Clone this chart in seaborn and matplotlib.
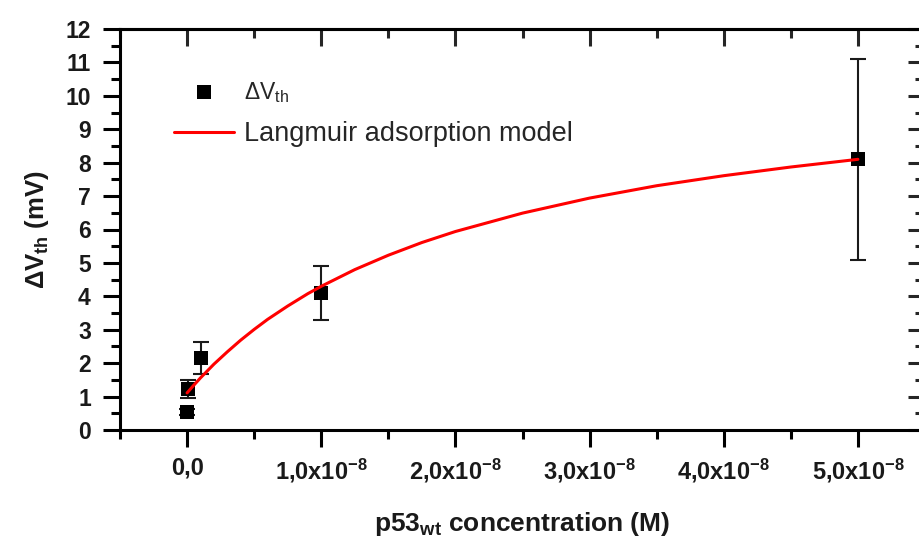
import matplotlib
matplotlib.use("Agg")
import matplotlib.pyplot as plt
from matplotlib.ticker import MultipleLocator
import seaborn as sns
import pandas as pd

# ---- data ----
conc = [1e-11, 1e-10, 1e-9, 1e-8, 5e-8]          # p53wt concentration (M)
dvth = [0.54, 1.23, 2.15, 4.10, 8.10]             # ΔVth (mV)
dvth_err = [0.10, 0.28, 0.48, 0.80, 3.00]         # error (mV)

model_x = [0.0, 0.05e-8, 0.1e-8, 0.2e-8, 0.3e-8, 0.4e-8, 0.5e-8, 0.6e-8, 0.75e-8,
           0.9e-8, 1.0e-8, 1.25e-8, 1.5e-8, 1.75e-8, 2.0e-8, 2.5e-8, 3.0e-8,
           3.5e-8, 4.0e-8, 4.5e-8, 5.0e-8]
model_y = [1.11, 1.34, 1.56, 1.97, 2.34, 2.69, 3.01, 3.31, 3.71,
           4.08, 4.30, 4.80, 5.23, 5.61, 5.94, 6.49, 6.94,
           7.31, 7.61, 7.87, 8.10]

xtick_vals = [0.0, 1e-8, 2e-8, 3e-8, 4e-8, 5e-8]
xtick_labels = ["0,0", r"1,0x10$^{\mathbf{-8}}$", r"2,0x10$^{\mathbf{-8}}$",
                r"3,0x10$^{\mathbf{-8}}$", r"4,0x10$^{\mathbf{-8}}$", r"5,0x10$^{\mathbf{-8}}$"]
ytick_vals = list(range(0, 13))

pts = pd.DataFrame({"conc": conc, "dvth": dvth})
model = pd.DataFrame({"x": model_x, "y": model_y})

sns.set_style("ticks")
plt.rcParams["font.family"] = ["Liberation Sans", "DejaVu Sans"]
plt.rcParams["mathtext.fontset"] = "custom"
plt.rcParams["mathtext.rm"] = "Liberation Sans"
plt.rcParams["mathtext.it"] = "Liberation Sans:italic"
plt.rcParams["mathtext.bf"] = "Liberation Sans:bold"

W, H = 919, 543
fig = plt.figure(figsize=(W / 100, H / 100), dpi=100)
ax = fig.add_axes([120 / W, 113 / H, 805 / W, 401 / H])

ax.errorbar(conc, dvth, yerr=dvth_err, fmt="none", ecolor="#1a1a1a",
            elinewidth=1.5, capsize=5.5, capthick=1.5, zorder=2)
sns.scatterplot(data=pts, x="conc", y="dvth", marker="s", s=105, color="black",
                linewidth=0, ax=ax, zorder=3, label="ΔV$_{\\mathrm{th}}$")
sns.lineplot(data=model, x="x", y="y", color="#ff0000", linewidth=2.2, ax=ax,
             zorder=4, label="Langmuir adsorption model")

ax.set_xlim(-0.5e-8, 5.5e-8)
ax.set_ylim(0, 12)

ax.set_xticks(xtick_vals, xtick_labels)
ax.set_yticks(ytick_vals, [str(v) for v in ytick_vals])
ax.xaxis.set_minor_locator(MultipleLocator(0.5e-8))
ax.yaxis.set_minor_locator(MultipleLocator(0.5))

for lab in ax.get_xticklabels():
    lab.set_fontsize(17)
    lab.set_fontweight("bold")
for lab in ax.get_yticklabels():
    lab.set_fontsize(16.5)
    lab.set_fontweight("bold")

ax.tick_params(axis="both", which="major", direction="out", length=12, width=2.2,
               color="black", labelcolor="#1a1a1a")
ax.tick_params(axis="x", which="major", pad=7)
ax.tick_params(axis="y", which="major", pad=9)
ax.tick_params(axis="both", which="minor", direction="out", length=6.5, width=2.2,
               color="black")

for sp in ax.spines.values():
    sp.set_linewidth(2.2)
    sp.set_color("black")
    sp.set_visible(True)

# mirrored top / right axes with inward ticks
top = ax.secondary_xaxis("top")
top.set_xticks(xtick_vals)
top.xaxis.set_minor_locator(MultipleLocator(0.5e-8))
top.tick_params(which="major", direction="in", length=12, width=2.2, labeltop=False)
top.tick_params(which="minor", direction="in", length=6.5, width=2.2)
top.spines["top"].set_linewidth(2.2)
right = ax.secondary_yaxis("right")
right.set_yticks(ytick_vals)
right.yaxis.set_minor_locator(MultipleLocator(0.5))
right.tick_params(which="major", direction="in", length=12, width=2.2, labelright=False)
right.tick_params(which="minor", direction="in", length=7, width=2.2)
right.spines["right"].set_linewidth(2.2)

ax.set_xlabel("p53$_{\\mathbf{wt}}$ concentration (M)", fontsize=19, fontweight="bold",
              color="#1a1a1a", labelpad=18)
ax.set_ylabel("ΔV$_{\\mathbf{th}}$ (mV)", fontsize=18.5, fontweight="bold",
              color="#1a1a1a", labelpad=10)

leg = ax.legend(loc="upper left", bbox_to_anchor=(174 / W, 1 - 80 / H),
                bbox_transform=fig.transFigure, frameon=False, fontsize=19.5,
                handlelength=2.2, handletextpad=0.4, labelspacing=0.6,
                borderpad=0, borderaxespad=0, markerscale=1.0)
leg.get_texts()[0].set_fontsize(16.5)

fig.savefig("out.png", dpi=100)
